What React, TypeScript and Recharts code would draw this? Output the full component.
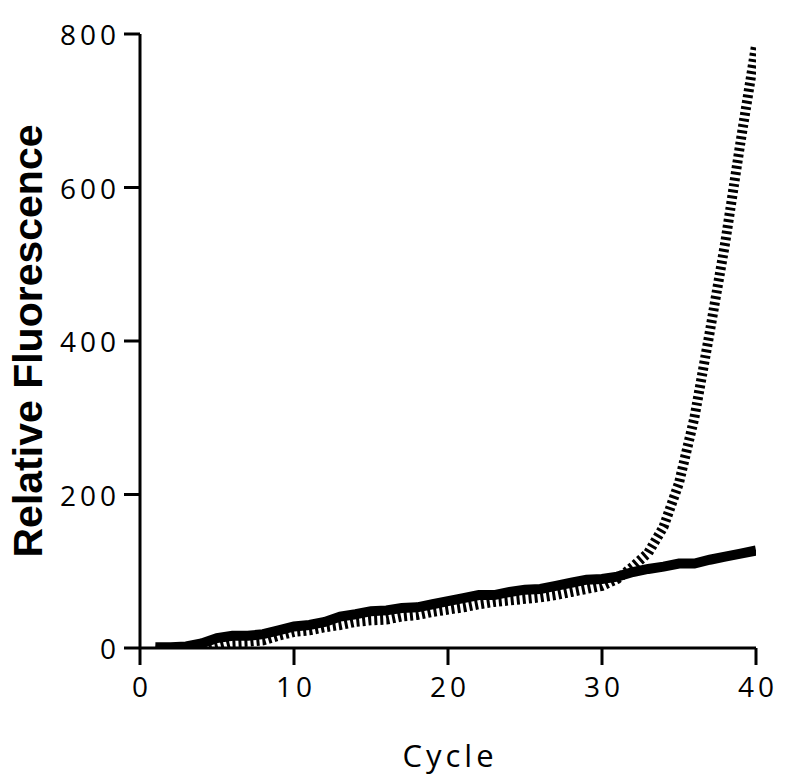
import React from 'react';
import { LineChart, Line, XAxis, YAxis } from 'recharts';

const cycles = [
  1, 2, 3, 4, 5, 6, 7, 8, 9, 10, 11, 12, 13, 14, 15, 16, 17, 18, 19, 20,
  21, 22, 23, 24, 25, 26, 27, 28, 29, 30, 31, 32, 33, 34, 35, 36, 37, 38, 39, 40,
];

// solid trace (no amplification)
const baselineSeries = [
  1, 1, 2, 6, 13, 16, 16, 18, 23, 28, 30, 34, 41, 44, 48, 49, 52, 53, 57, 61,
  65, 69, 69, 73, 76, 77, 81, 85, 89, 90, 93, 99, 103, 106, 110, 110, 115, 119, 123, 127,
];

// dotted trace (amplifies after ~cycle 31)
const amplifiedSeries = [
  0, -3, -3, -2, 2, 7, 8, 10, 16, 21, 23, 27, 30, 34, 36, 37, 41, 43, 47, 50,
  53, 57, 60, 62, 64, 66, 69, 73, 77, 81, 90, 106, 124, 158, 215, 300, 412, 528, 660, 785,
];

const xTicks = [0, 10, 20, 30, 40];
const yTicks = [0, 200, 400, 600, 800];

const data = cycles.map((c, i) => ({
  cycle: c,
  baseline: baselineSeries[i],
  amplified: amplifiedSeries[i],
}));

const tickFont = '"Open Sans", sans-serif';

const YTick = ({ x, y, payload }: any) => (
  <text
    x={x + 4}
    y={y}
    textAnchor="end"
    dominantBaseline="central"
    fontFamily={tickFont}
    fontSize={28}
    letterSpacing={4}
    fill="#000"
  >
    {payload.value}
  </text>
);

const XTick = ({ x, y, payload }: any) => (
  <text
    x={x + 2}
    y={y}
    textAnchor="middle"
    dominantBaseline="hanging"
    fontFamily={tickFont}
    fontSize={28}
    letterSpacing={4}
    fill="#000"
  >
    {payload.value}
  </text>
);

const YLabel = ({ viewBox }: any) => {
  const cy = viewBox.y + viewBox.height / 2;
  return (
    <text
      x={28}
      y={cy}
      transform={`rotate(-90, 28, ${cy})`}
      textAnchor="middle"
      dominantBaseline="central"
      fontFamily='"Liberation Sans", Arial, sans-serif'
      fontWeight="bold"
      fontSize={41}
      fill="#000"
    >
      Relative Fluorescence
    </text>
  );
};

const XLabel = ({ viewBox }: any) => (
  <text
    x={viewBox.x + viewBox.width / 2 + 2}
    y={viewBox.y + 107}
    textAnchor="middle"
    dominantBaseline="central"
    fontFamily={tickFont}
    fontSize={31}
    letterSpacing={4}
    fill="#000"
  >
    Cycle
  </text>
);

export default function App() {
  return (
    <div style={{ position: 'absolute', left: 0, top: 0, width: 790, height: 781, background: '#fff' }}>
      <LineChart
        width={790}
        height={781}
        data={data}
        margin={{ top: 34, right: 34, bottom: 0, left: 0 }}
      >
        <XAxis
          dataKey="cycle"
          type="number"
          domain={[0, 40]}
          ticks={xTicks}
          allowDataOverflow
          height={133}
          axisLine={{ stroke: '#000', strokeWidth: 3 }}
          tickLine={{ stroke: '#000', strokeWidth: 3 }}
          tickSize={17}
          tickMargin={8}
          tick={<XTick />}
          label={<XLabel />}
        />
        <YAxis
          type="number"
          domain={[0, 800]}
          ticks={yTicks}
          allowDataOverflow
          width={140}
          axisLine={{ stroke: '#000', strokeWidth: 3 }}
          tickLine={{ stroke: '#000', strokeWidth: 3 }}
          tickSize={16}
          tickMargin={8}
          tick={<YTick />}
          label={<YLabel />}
        />
        <Line
          type="linear"
          dataKey="amplified"
          stroke="#000"
          strokeWidth={10}
          strokeDasharray="3 3"
          dot={false}
          isAnimationActive={false}
        />
        <Line
          type="linear"
          dataKey="baseline"
          stroke="#000"
          strokeWidth={10}
          dot={false}
          isAnimationActive={false}
        />
      </LineChart>
    </div>
  );
}
